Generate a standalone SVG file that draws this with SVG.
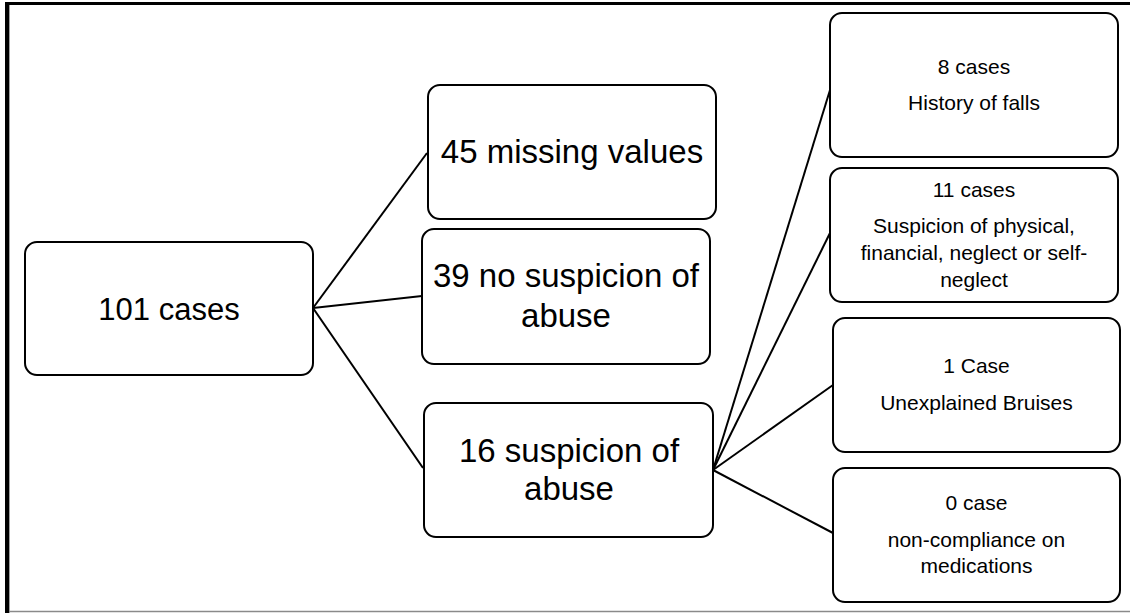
<svg xmlns="http://www.w3.org/2000/svg" width="1130" height="613" viewBox="0 0 1130 613">
  <style>
    .box { fill: #ffffff; stroke: #000000; stroke-width: 2; }
    .conn line { stroke: #000000; stroke-width: 2; }
    .big { font-family: "Liberation Sans", Arial, sans-serif; font-size: 33px; fill: #000000; text-anchor: middle; }
    .small { font-family: "Liberation Sans", Arial, sans-serif; font-size: 21px; fill: #000000; text-anchor: middle; }
  </style>
  <rect x="0" y="0" width="1130" height="613" fill="#ffffff"/>
  <g id="frame">
    <rect x="5" y="2" width="4" height="611" fill="#000000"/>
    <rect x="5" y="2" width="1125" height="3" fill="#000000"/>
    <line x1="9.5" y1="5" x2="9.5" y2="613" stroke="#a0a0a0" stroke-width="1"/>
    <line x1="9" y1="611.5" x2="1130" y2="611.5" stroke="#8a8a8a" stroke-width="1.5"/>
  </g>
  <g id="connectors" class="conn">
    <line x1="313" y1="308" x2="427" y2="153"/>
    <line x1="313" y1="308" x2="422" y2="296"/>
    <line x1="313" y1="308" x2="423" y2="468"/>
    <line x1="713" y1="470" x2="830" y2="90"/>
    <line x1="713" y1="470" x2="830" y2="233"/>
    <line x1="713" y1="470" x2="833" y2="385"/>
    <line x1="713" y1="470" x2="833" y2="533"/>
  </g>
  <g id="n101">
    <rect class="box" x="25" y="242" width="288" height="133" rx="12"/>
    <text class="big" x="169" y="320" style="font-size:31px">101 cases</text>
  </g>
  <g id="n45">
    <rect class="box" x="428" y="85" width="288" height="134" rx="12"/>
    <text class="big" x="572" y="163">45 missing values</text>
  </g>
  <g id="n39">
    <rect class="box" x="422" y="229" width="288" height="135" rx="12"/>
    <text class="big" x="566" y="287">39 no suspicion of</text>
    <text class="big" x="566" y="327">abuse</text>
  </g>
  <g id="n16">
    <rect class="box" x="424" y="403" width="289" height="134" rx="12"/>
    <text class="big" x="569" y="462">16 suspicion of</text>
    <text class="big" x="569" y="500">abuse</text>
  </g>
  <g id="n8">
    <rect class="box" x="830" y="13" width="288" height="144" rx="12"/>
    <text class="small" x="974" y="74">8 cases</text>
    <text class="small" x="974" y="110">History of falls</text>
  </g>
  <g id="n11">
    <rect class="box" x="830" y="168" width="288" height="134" rx="12"/>
    <text class="small" x="974" y="197">11 cases</text>
    <text class="small" x="974" y="233">Suspicion of physical,</text>
    <text class="small" x="974" y="260">financial, neglect or self-</text>
    <text class="small" x="974" y="287">neglect</text>
  </g>
  <g id="n1">
    <rect class="box" x="833" y="318" width="287" height="134" rx="12"/>
    <text class="small" x="976.5" y="373">1 Case</text>
    <text class="small" x="976.5" y="410">Unexplained Bruises</text>
  </g>
  <g id="n0">
    <rect class="box" x="833" y="468" width="287" height="134" rx="12"/>
    <text class="small" x="976.5" y="510">0 case</text>
    <text class="small" x="976.5" y="547">non-compliance on</text>
    <text class="small" x="976.5" y="573">medications</text>
  </g>
</svg>
